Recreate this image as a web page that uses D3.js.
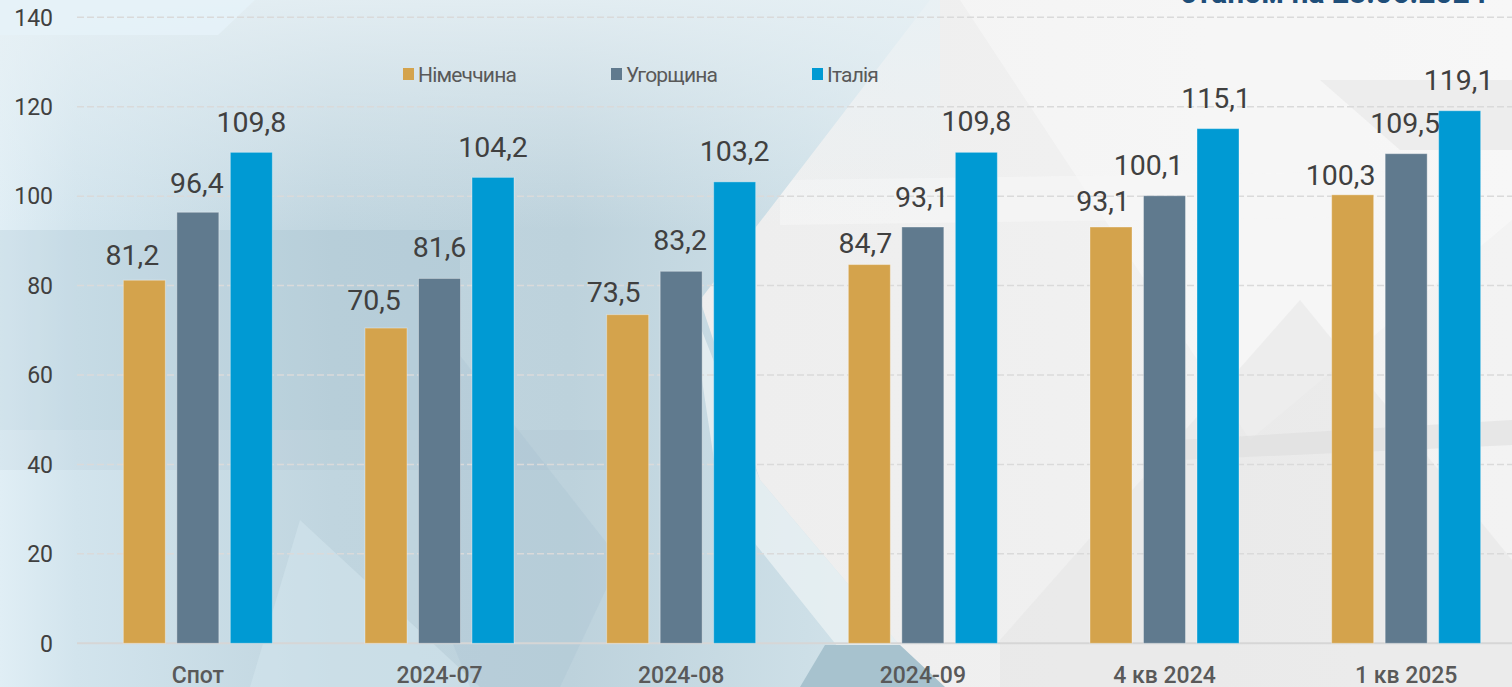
<!DOCTYPE html>
<html>
<head>
<meta charset="utf-8">
<script src="https://cdn.jsdelivr.net/npm/d3@7/dist/d3.min.js"></script>
<style>
  html, body { margin: 0; padding: 0; background: #f1f1f1; overflow: hidden; }
  svg { display: block; font-family: Roboto, "Noto Sans", sans-serif; }
</style>
</head>
<body>
<svg id="chart" width="1512" height="687"></svg>
<script>
// ---- data ----
const categories = ["Спот", "2024-07", "2024-08", "2024-09", "4 кв 2024", "1 кв 2025"];
const seriesNames = ["Німеччина", "Угорщина", "Італія"];
const germany = [81.2, 70.5, 73.5, 84.7, 93.1, 100.3];
const hungary = [96.4, 81.6, 83.2, 93.1, 100.1, 109.5];
const italy   = [109.8, 104.2, 103.2, 109.8, 115.1, 119.1];
const yTicks = [0, 20, 40, 60, 80, 100, 120, 140];
const subtitle = "станом на 28.06.2024";

// ---- style ----
const colors = ["#d4a34c", "#607a8e", "#009ad3"];
const W = 1512, H = 687;
// manual label nudges (as placed in the original chart)
const labelDx = [[-12, -12, -14, -4, -8, -12], [-1, 0, -1, -1, -16, -1], [0, 0, 0, 0, -2, -1]];
const labelGap = [[15, 18, 13, 12, 16, 10], [19, 21, 21, 20, 21, 21], [20, 20, 21, 21, 21, 21]];

const svg = d3.select("#chart");
const defs = svg.append("defs");

// ---- background ----
const gBase = defs.append("linearGradient").attr("id", "gBase").attr("x1", 0).attr("x2", 1).attr("y1", 0).attr("y2", 0);
[[0, "#ececec"], [0.5, "#eeeeee"], [1, "#f3f3f3"]].forEach(s => gBase.append("stop").attr("offset", s[0]).attr("stop-color", s[1]));
const gBlue = defs.append("linearGradient").attr("id", "gBlue").attr("gradientUnits", "userSpaceOnUse")
  .attr("x1", 0).attr("x2", 950).attr("y1", 0).attr("y2", 0);
[[0, "#e0eef5"], [0.08, "#d2e4ed"], [0.35, "#c0d5df"], [0.6, "#bdd2dc"], [0.85, "#cddfe7"], [1, "#dae7ed"]]
  .forEach(s => gBlue.append("stop").attr("offset", s[0]).attr("stop-color", s[1]));
const gTop = defs.append("linearGradient").attr("id", "gTop").attr("x1", 0).attr("x2", 0).attr("y1", 0).attr("y2", 1);
[[0, "#e8f1f5", 0.85], [1, "#e8f1f5", 0]].forEach(s => gTop.append("stop").attr("offset", s[0]).attr("stop-color", s[1]).attr("stop-opacity", s[2]));

const bg = svg.append("g");
bg.append("rect").attr("width", W).attr("height", H).attr("fill", "url(#gBase)");
const poly = (pts, fill, op) => bg.append("polygon").attr("points", pts.map(p => p.join(",")).join(" "))
  .attr("fill", fill).attr("opacity", op == null ? 1 : op);
// right side subtle triangles
poly([[960, 0], [1512, 0], [1512, 220], [1250, 440]], "#ffffff", 0.35);
poly([[1000, 640], [1300, 300], [1512, 560], [1512, 687], [1000, 687]], "#e2e2e2", 0.45);
poly([[1180, 440], [1512, 420], [1512, 445], [1180, 460]], "#dcdcdc", 0.5);
poly([[780, 180], [1512, 170], [1512, 215], [780, 225]], "#f7f7f7", 0.6);
poly([[1320, 80], [1512, 80], [1512, 150], [1400, 150]], "#e4e4e4", 0.5);
// blue region
poly([[0, 0], [930, 0], [700, 300], [760, 480], [935, 687], [0, 687]], "url(#gBlue)");
bg.append("rect").attr("x", 0).attr("y", 0).attr("width", 940).attr("height", 230).attr("fill", "url(#gTop)");
poly([[0, 0], [255, 0], [218, 35], [0, 35]], "#e6f2f8", 0.9);
poly([[0, 230], [460, 230], [460, 430], [0, 430]], "#8fb0c0", 0.18);
poly([[0, 430], [620, 430], [620, 470], [0, 470]], "#9ab8c6", 0.12);
poly([[690, 300], [760, 480], [935, 687], [870, 687], [720, 500]], "#eef3f5", 0.7);
poly([[300, 520], [480, 687], [250, 687]], "#d6e7ef", 0.5);
poly([[440, 330], [620, 560], [560, 687], [470, 687], [420, 560]], "#9fbccb", 0.22);
poly([[825, 645], [900, 645], [945, 687], [800, 687]], "#a7c2ce", 1);

// ---- scales ----
const x0 = d3.scaleBand().domain(categories).range([77, 1527]).padding(0);
const groupW = 149;
const x1 = d3.scaleBand().domain(seriesNames).range([0, groupW]).paddingInner(0.215).paddingOuter(0);
const y = d3.scaleLinear().domain([0, 140]).range([643.3, 17.3]);

// ---- grid ----
const grid = svg.append("g");
grid.selectAll("line.g").data(yTicks.filter(t => t > 0)).join("line")
  .attr("x1", 77).attr("x2", W).attr("y1", d => y(d)).attr("y2", d => y(d))
  .attr("stroke", "#dadada").attr("stroke-width", 1.5).attr("stroke-dasharray", "7,3");
grid.append("line").attr("x1", 77).attr("x2", W).attr("y1", y(0)).attr("y2", y(0))
  .attr("stroke", "#d6d6d6").attr("stroke-width", 2);

// y tick labels
svg.append("g").selectAll("text").data(yTicks).join("text")
  .attr("x", 53).attr("y", d => y(d)).attr("dy", "0.36em").attr("text-anchor", "end")
  .attr("font-size", 23).attr("fill", "#404040").text(d => d);

// ---- bars ----
const seriesVals = [germany, hungary, italy];
const groups = svg.append("g").selectAll("g").data(categories).join("g")
  .attr("transform", c => `translate(${x0(c) + (x0.bandwidth() - groupW) / 2},0)`);
groups.each(function (c, ci) {
  const g = d3.select(this);
  seriesNames.forEach((s, si) => {
    const v = seriesVals[si][ci];
    g.append("rect").attr("x", x1(s)).attr("width", x1.bandwidth())
      .attr("y", y(v)).attr("height", y(0) - y(v))
      .attr("fill", colors[si]).attr("stroke", "rgba(255,255,255,0.35)").attr("stroke-width", 1);
  });
});
// value labels
groups.each(function (c, ci) {
  const g = d3.select(this);
  seriesNames.forEach((s, si) => {
    const v = seriesVals[si][ci];
    g.append("text").attr("x", x1(s) + x1.bandwidth() / 2 + labelDx[si][ci])
      .attr("y", y(v) - labelGap[si][ci]).attr("text-anchor", "middle")
      .attr("font-size", 28.5).attr("fill", "#404040")
      .text(d3.format(".1f")(v).replace(".", ","));
  });
});

// x labels
svg.append("g").selectAll("text").data(categories).join("text")
  .attr("x", c => x0(c) + x0.bandwidth() / 2).attr("y", 683).attr("text-anchor", "middle")
  .attr("font-size", 23).attr("font-weight", 500).attr("fill", "#595959").text(c => c);

// legend
const legX = [403, 611, 812];
const leg = svg.append("g").selectAll("g").data(seriesNames).join("g")
  .attr("transform", (d, i) => `translate(${legX[i]},0)`);
leg.append("rect").attr("x", 0).attr("y", 68).attr("width", 11).attr("height", 12).attr("fill", (d, i) => colors[i]);
leg.append("text").attr("x", 15).attr("y", 82).attr("font-size", 21).attr("letter-spacing", -0.8)
  .attr("fill", "#595959").text(d => d);

// subtitle (clipped at top)
svg.append("text").attr("x", 1487).attr("y", 3).attr("text-anchor", "end")
  .attr("font-size", 30).attr("font-weight", 700).attr("fill", "#1f4e79").text(subtitle);
</script>
</body>
</html>
